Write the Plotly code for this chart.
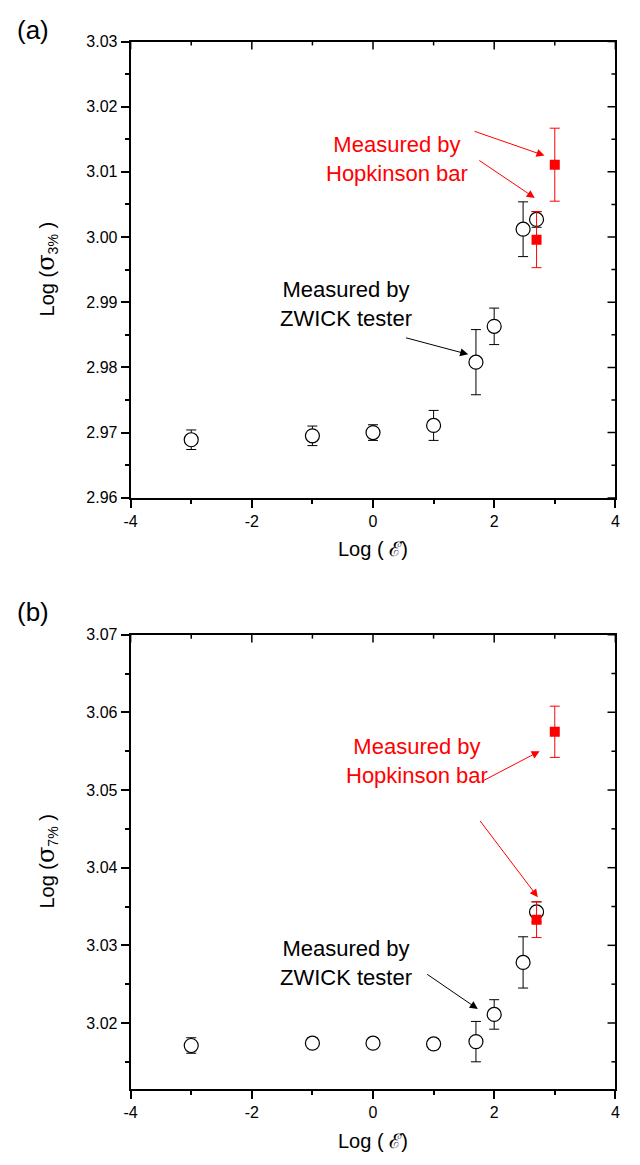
import plotly.graph_objects as go

# ---------------- data ----------------
rate_zwick = [-3.0, -1.0, 0.0, 1.0, 1.699, 2.0, 2.477, 2.699]
rate_hopk = [2.699, 3.0]

# panel (a)  Log(sigma 3%)
s3_zwick = [2.9689, 2.9695, 2.9700, 2.9711, 2.9808, 2.9863, 3.0012, 3.0027]
s3_zwick_err = [0.0015, 0.0015, 0.0012, 0.0023, 0.0050, 0.0028, 0.0042, 0.0012]
s3_hopk = [2.9996, 3.0111]
s3_hopk_err = [0.0043, 0.0056]

# panel (b)  Log(sigma 7%)
s7_zwick = [3.0171, 3.0174, 3.0174, 3.0173, 3.0176, 3.0211, 3.0278, 3.0343]
s7_zwick_err = [0.0010, 0.0007, 0.0007, 0.0007, 0.0026, 0.0019, 0.0033, 0.0013]
s7_hopk = [3.0333, 3.0575]
s7_hopk_err = [0.0023, 0.0033]

x_ticks = [-4, -2, 0, 2, 4]
x_ticktext = ["-4", "-2", "0", "2", "4"]
x_minor = [-3, -1, 1, 3]
y_ticks_a = [2.96, 2.97, 2.98, 2.99, 3.00, 3.01, 3.02, 3.03]
y_minor_a = [2.965, 2.975, 2.985, 2.995, 3.005, 3.015, 3.025]
y_ticks_b = [3.02, 3.03, 3.04, 3.05, 3.06, 3.07]
y_minor_b = [3.015, 3.025, 3.035, 3.045, 3.055, 3.065]

# ---------------- figure ----------------
W, H = 640, 1165
FONT = "Liberation Sans, Arial, Helvetica, sans-serif"
RED = "#ff0000"

def py(px):
    return 1 - px / H

fig = go.Figure()

def add_panel(xa, ya, yz, yz_err, yh, yh_err):
    fig.add_trace(go.Scatter(
        x=rate_zwick, y=yz, mode="markers", xaxis=xa, yaxis=ya,
        marker=dict(symbol="circle", size=14, color="white",
                    line=dict(color="black", width=1.2)),
        error_y=dict(type="data", array=yz_err, visible=True,
                     color="black", thickness=1, width=5),
        showlegend=False))
    fig.add_trace(go.Scatter(
        x=rate_hopk, y=yh, mode="markers", xaxis=xa, yaxis=ya,
        marker=dict(symbol="square", size=10, color=RED,
                    line=dict(color=RED, width=0)),
        error_y=dict(type="data", array=yh_err, visible=True,
                     color=RED, thickness=1, width=5),
        showlegend=False))

add_panel("x", "y", s3_zwick, s3_zwick_err, s3_hopk, s3_hopk_err)
add_panel("x2", "y2", s7_zwick, s7_zwick_err, s7_hopk, s7_hopk_err)

X0, X1 = 126, 620
YA0, YA1 = 34, 497
YB0, YB1 = 636, 1097
xdom = [X0 / W, X1 / W]
ydom_a = [py(YA1), py(YA0)]
ydom_b = [py(YB1), py(YB0)]
yr_a = [2.96, 3.03]
yr_b = [3.0115, 3.07]
xr = [-4, 4]

tickfont = dict(family=FONT, size=16, color="black")

def xaxis_main(anchor):
    return dict(domain=xdom, range=xr, anchor=anchor, tickvals=x_ticks,
                ticktext=x_ticktext,
                ticks="outside", ticklen=8, tickwidth=1.5, tickcolor="black",
                minor=dict(tickvals=x_minor, ticks="outside", ticklen=4,
                           tickwidth=1.5, tickcolor="black"),
                showline=True, linecolor="black", linewidth=2, mirror=True,
                showgrid=False, zeroline=False, tickfont=tickfont)

def yaxis_main(anchor, dom, rng, tv, mv):
    return dict(domain=dom, range=rng, anchor=anchor, tickvals=tv,
                ticktext=["%.2f" % v for v in tv],
                ticks="outside", ticklen=8, tickwidth=1.5, tickcolor="black",
                minor=dict(tickvals=mv, ticks="outside", ticklen=4,
                           tickwidth=1.5, tickcolor="black"),
                showline=True, linecolor="black", linewidth=2, mirror=True,
                showgrid=False, zeroline=False, tickfont=tickfont)

fig.update_layout(
    width=W, height=H, margin=dict(l=0, r=0, t=0, b=0),
    paper_bgcolor="white", plot_bgcolor="white",
    font=dict(family=FONT, color="black"),
    xaxis=xaxis_main("y"),
    yaxis=yaxis_main("x", ydom_a, yr_a, y_ticks_a, y_minor_a),
    xaxis2=xaxis_main("y2"),
    yaxis2=yaxis_main("x2", ydom_b, yr_b, y_ticks_b, y_minor_b),
)

# inward ticks on the top and right sides of each frame
def inner_ticks(xa, ya, ph, ytv, ymv):
    for vals, ln in ((x_ticks, 8), (x_minor, 4)):
        for v in vals:
            fig.add_shape(type="line", xref=xa, yref=ya + " domain",
                          x0=v, x1=v, y0=1, y1=1 - ln / ph,
                          line=dict(color="black", width=1.5))
    for vals, ln in ((ytv, 8), (ymv, 4)):
        for v in vals:
            fig.add_shape(type="line", xref="x domain" if xa == "x" else "x2 domain",
                          yref=ya, x0=1, x1=1 - ln / (X1 - X0), y0=v, y1=v,
                          line=dict(color="black", width=1.5))

inner_ticks("x", "y", YA1 - YA0, y_ticks_a, y_minor_a)
inner_ticks("x2", "y2", YB1 - YB0, y_ticks_b, y_minor_b)

ann = []

def label(xref, yref, x, y, text, color):
    ann.append(dict(xref=xref, yref=yref, x=x, y=y, text=text, showarrow=False,
                    font=dict(family=FONT, size=22, color=color),
                    align="center", xanchor="center", yanchor="middle"))

def arrow(xref, yref, x0, y0, x1, y1, color):
    ann.append(dict(xref=xref, yref=yref, axref=xref, ayref=yref,
                    x=x1, y=y1, ax=x0, ay=y0, text="", showarrow=True,
                    arrowhead=2, arrowsize=1.6, arrowwidth=1, arrowcolor=color,
                    standoff=0, startstandoff=0))

# panel (a)
label("x", "y", 0.40, 3.0120, "Measured by<br>Hopkinson bar", RED)
arrow("x", "y", 1.65, 3.0163, 2.83, 3.0125, RED)
arrow("x", "y", 1.73, 3.0119, 2.67, 3.0060, RED)
label("x", "y", -0.45, 2.9898, "Measured by<br>ZWICK tester", "black")
arrow("x", "y", 0.52, 2.9846, 1.57, 2.9820, "black")

# panel (b)
label("x2", "y2", 0.73, 3.0537, "Measured by<br>Hopkinson bar", RED)
arrow("x2", "y2", 1.77, 3.0510, 2.75, 3.0550, RED)
arrow("x2", "y2", 1.75, 3.0462, 2.72, 3.0362, RED)
label("x2", "y2", -0.45, 3.0277, "Measured by<br>ZWICK tester", "black")
arrow("x2", "y2", 0.87, 3.0264, 1.73, 3.0218, "black")

# panel letters
ann.append(dict(xref="paper", yref="paper", x=8 / W, y=py(22), text="(a)",
                showarrow=False, xanchor="left", yanchor="middle",
                font=dict(family=FONT, size=26, color="black")))
ann.append(dict(xref="paper", yref="paper", x=8 / W, y=py(613), text="(b)",
                showarrow=False, xanchor="left", yanchor="middle",
                font=dict(family=FONT, size=26, color="black")))

# axis titles
sig = '<span style="font-family:DejaVu Serif, serif; font-size:24px">σ</span>'
ann.append(dict(xref="paper", yref="paper", x=40 / W, y=py(265),
                text="Log (" + sig + "<sub>3%</sub> )", textangle=-90,
                showarrow=False, xanchor="center", yanchor="middle",
                font=dict(family=FONT, size=20, color="black")))
ann.append(dict(xref="paper", yref="paper", x=40 / W, y=py(866),
                text="Log (" + sig + "<sub>7%</sub> )", textangle=-90,
                showarrow=False, xanchor="center", yanchor="middle",
                font=dict(family=FONT, size=20, color="black")))
eps = '<span style="font-family:DejaVu Serif, serif">ℰ̇</span>'
ann.append(dict(xref="paper", yref="paper", x=373 / W, y=py(549),
                text="Log ( " + eps + ")", showarrow=False,
                xanchor="center", yanchor="middle",
                font=dict(family=FONT, size=20, color="black")))
ann.append(dict(xref="paper", yref="paper", x=373 / W, y=py(1150),
                text="Log ( " + eps + ")", showarrow=False,
                xanchor="center", yanchor="middle",
                font=dict(family=FONT, size=20, color="black")))

fig.update_layout(annotations=ann)
fig.write_html("out.html")
